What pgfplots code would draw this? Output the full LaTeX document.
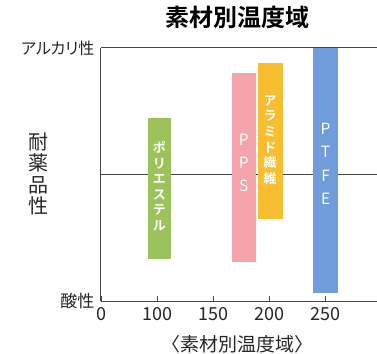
\documentclass[border=0pt]{standalone}
\usepackage{fontspec}
\setmainfont{Noto Sans CJK JP}[BoldFont={Noto Sans CJK JP Bold}]
\newfontfamily\jpp{Noto Sans CJK JP}[RawFeature=+palt]
\usepackage{pgfplots}
\pgfplotsset{compat=1.18}
\definecolor{cgreen}{HTML}{9CC35B}
\definecolor{cpink}{HTML}{F5A4AB}
\definecolor{cyellow}{HTML}{F8BE2F}
\definecolor{cblue}{HTML}{709CDB}
\definecolor{axgray}{HTML}{444444}
\begin{document}
\begin{tikzpicture}
\useasboundingbox (-101pt,-52pt) rectangle (276pt,301pt);
\begin{axis}[
  scale only axis, width=276pt, height=253pt,
  xmin=50, xmax=296.4, ymin=0, ymax=10,
  axis lines*=left,
  axis line style={-, axgray, line width=1pt},
  xtick={50,100,150,200,250},
  xticklabels={0,100,150,200,250},
  xtick align=inside,
  major tick length=5pt,
  xtick style={axgray, line width=0.8pt},
  ytick={0,10},
  yticklabels={{\fontsize{17}{19}\selectfont 酸性},{\jpp\fontsize{16}{18}\selectfont アルカリ性}},
  ytick style={draw=none},
  /pgf/number format/assume math mode=true,
  xticklabel style={font=\fontsize{18}{20}\selectfont, text=black!85, yshift=-3pt},
  yticklabel style={text=black!85, xshift=-3pt},
  title={素材別温度域},
  title style={font=\bfseries\fontsize{24}{27}\selectfont, at={(rel axis cs:0.493,1)}, anchor=center, yshift=25pt},
  xlabel={〈素材別温度域〉},
  xlabel style={font=\fontsize{19}{21}\selectfont, at={(rel axis cs:0.493,0)}, anchor=center, yshift=-43pt, text=black!85},
  clip=false,
]
\addplot[axgray, line width=0.8pt] coordinates {(50,5) (296.4,5)};
\draw[axgray, line width=1pt] (rel axis cs:0,1) -- (rel axis cs:1,1);
\addplot[fill=cgreen, draw=none] coordinates {(92,1.66) (112.5,1.66) (112.5,7.22) (92,7.22)} -- cycle;
\addplot[fill=cpink, draw=none] coordinates {(166.7,1.54) (188.4,1.54) (188.4,9.02) (166.7,9.02)} -- cycle;
\addplot[fill=cyellow, draw=none] coordinates {(189.9,3.24) (212.2,3.24) (212.2,9.39) (189.9,9.39)} -- cycle;
\addplot[fill=cblue, draw=none] coordinates {(239.6,0.3) (261.3,0.3) (261.3,10) (239.6,10)} -- cycle;
\node[white, align=center, font=\bfseries\fontsize{13}{15.5}\selectfont] at (axis cs:102.2,4.53) {ポ\\リ\\エ\\ス\\テ\\ル};
\node[white, align=center, font=\fontsize{15.5}{23}\selectfont] at (axis cs:177.5,5.47) {P\\P\\S};
\node[white, align=center, font=\bfseries\fontsize{13}{15.6}\selectfont] at (axis cs:201,6.36) {ア\\ラ\\ミ\\ド\\繊\\維};
\node[white, align=center, font=\fontsize{15.5}{23.5}\selectfont] at (axis cs:250.5,5.42) {P\\T\\F\\E};
\node[align=center, text=black!85, font=\fontsize{20}{21.5}\selectfont] at (rel axis cs:0,0.502) [xshift=-62pt] {耐\\薬\\品\\性};
\end{axis}
\end{tikzpicture}
\end{document}
